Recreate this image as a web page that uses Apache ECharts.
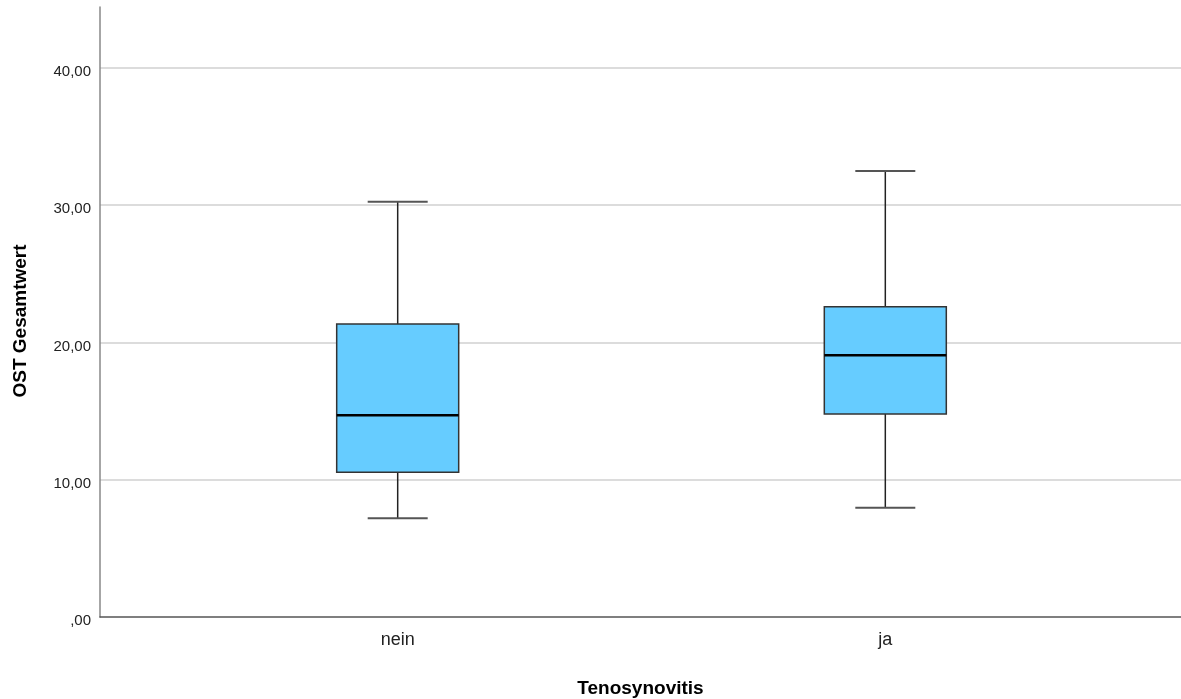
<!DOCTYPE html>
<html>
<head>
<meta charset="utf-8">
<script src="https://cdn.jsdelivr.net/npm/echarts@6/dist/echarts.min.js"></script>
<style>html,body{margin:0;padding:0;background:#fff;}#c{width:1181px;height:699px;}</style>
</head>
<body>
<div id="c"></div>
<script>
var categories = ['nein', 'ja'];
var whiskerLow = [7.19, 7.96];
var q1 = [10.54, 14.79];
var median = [14.70, 19.07];
var q3 = [21.35, 22.61];
var whiskerHigh = [30.26, 32.50];
var yTicks = [0, 10, 20, 30, 40];

var data = categories.map(function (c, i) {
  return [i, whiskerLow[i], q1[i], median[i], q3[i], whiskerHigh[i]];
});

function fmt(v) {
  var s = v.toFixed(2).replace('.', ',');
  if (s.indexOf('0,') === 0) s = s.substring(1);
  return s;
}

var chart = echarts.init(document.getElementById('c'));
chart.setOption({
  backgroundColor: '#fff',
  animation: false,
  grid: { left: 100, right: 0, top: 7, bottom: 82, containLabel: false, outerBoundsMode: 'none' },
  xAxis: {
    type: 'value',
    min: -0.6105,
    max: 1.6064,
    name: 'Tenosynovitis',
    nameLocation: 'middle',
    nameGap: 62,
    nameTextStyle: { fontFamily: 'Liberation Sans', fontSize: 19, fontWeight: 'bold', color: '#000' },
    axisLine: { show: true, onZero: false, lineStyle: { color: '#555', width: 1.5 } },
    axisTick: { show: false },
    splitLine: { show: false },
    axisLabel: {
      customValues: [0, 1],
      formatter: function (v) { return categories[Math.round(v)]; },
      fontFamily: 'Liberation Sans', fontSize: 18, color: '#222', margin: 14
    }
  },
  yAxis: {
    type: 'value',
    min: 0,
    max: 44.44,
    interval: 10,
    name: 'OST Gesamtwert',
    nameLocation: 'middle',
    nameGap: 70,
    nameTextStyle: { fontFamily: 'Liberation Sans', fontSize: 19, fontWeight: 'bold', color: '#000', padding: [0, 18, 0, 0] },
    axisLine: { show: true, onZero: false, lineStyle: { color: '#888', width: 1.5 } },
    axisTick: { show: false },
    splitLine: { show: true, showMinLine: false, showMaxLine: false, lineStyle: { color: '#d0d0d0', width: 1.5 } },
    axisLabel: {
      customValues: yTicks,
      formatter: function (v) { return fmt(v); },
      fontFamily: 'Liberation Sans', fontSize: 15, color: '#222', margin: 9,
      verticalAlign: 'top', lineHeight: 8
    }
  },
  series: [{
    type: 'custom',
    data: data,
    renderItem: function (params, api) {
      var x = api.value(0);
      var pLow = api.coord([x, api.value(1)]);
      var pQ1 = api.coord([x, api.value(2)]);
      var pMed = api.coord([x, api.value(3)]);
      var pQ3 = api.coord([x, api.value(4)]);
      var pHigh = api.coord([x, api.value(5)]);
      var cx = pMed[0];
      var bw = 61, cw = 30;
      var line = { stroke: '#222', lineWidth: 1.5 };
      return {
        type: 'group',
        children: [
          { type: 'line', shape: { x1: cx, y1: pHigh[1], x2: cx, y2: pQ3[1] }, style: line },
          { type: 'line', shape: { x1: cx, y1: pLow[1], x2: cx, y2: pQ1[1] }, style: line },
          { type: 'line', shape: { x1: cx - cw, y1: pHigh[1], x2: cx + cw, y2: pHigh[1] }, style: { stroke: '#555', lineWidth: 2 } },
          { type: 'line', shape: { x1: cx - cw, y1: pLow[1], x2: cx + cw, y2: pLow[1] }, style: { stroke: '#555', lineWidth: 2 } },
          { type: 'rect', shape: { x: cx - bw, y: pQ3[1], width: 2 * bw, height: pQ1[1] - pQ3[1] }, style: { fill: '#66ccff', stroke: '#333', lineWidth: 1.5 } },
          { type: 'line', shape: { x1: cx - bw, y1: pMed[1], x2: cx + bw, y2: pMed[1] }, style: { stroke: '#000', lineWidth: 2.5 } }
        ]
      };
    }
  }]
});
</script>
</body>
</html>
